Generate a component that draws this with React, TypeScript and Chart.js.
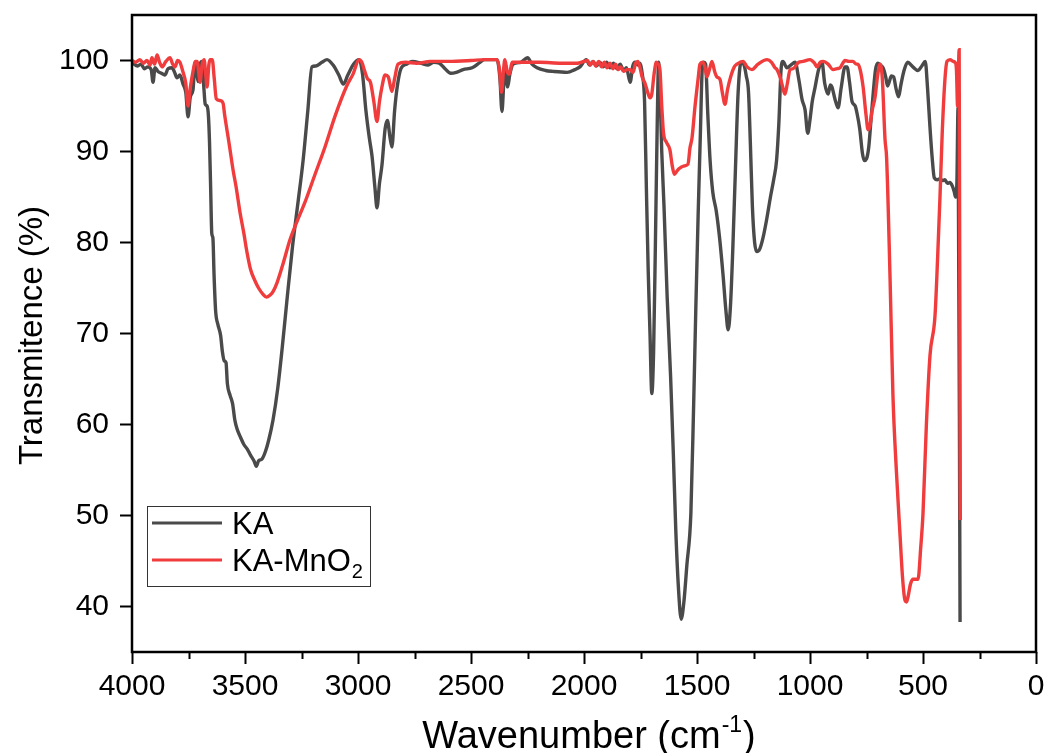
import React, { useEffect, useRef } from "react";
import { Chart, registerables } from "chart.js";

Chart.register(...registerables);

// ---------- data ----------
const X_TICKS = [0, 500, 1000, 1500, 2000, 2500, 3000, 3500, 4000];
const X_MINOR_TICKS = [250, 750, 1250, 1750, 2250, 2750, 3250, 3750];
const Y_TICKS = [40, 50, 60, 70, 80, 90, 100];
const SERIES_NAMES = ["KA", "KA-MnO2"];

// [wavenumber (cm-1), transmittance (%)]
const KA_POINTS: [number, number][] = [
  [4000, 99.9], [3990, 99.6], [3975, 99.4], [3960, 99.6], [3945, 99.1], [3930, 99.3],
  [3915, 99.0], [3907, 97.6], [3898, 99.2], [3885, 98.8], [3870, 98.6], [3855, 98.4],
  [3840, 99.1], [3823, 99.2], [3810, 98.6], [3801, 98.1], [3788, 98.4], [3774, 97.4],
  [3762, 96.5], [3752, 93.8], [3742, 96.0], [3730, 96.8], [3721, 99.8], [3714, 98.8],
  [3708, 97.7], [3700, 99.5], [3690, 99.9], [3682, 97.0], [3676, 95.2], [3668, 95.0],
  [3662, 94.0], [3657, 91.0], [3652, 86.0], [3647, 81.0], [3642, 80.5], [3637, 76.5],
  [3630, 72.5], [3620, 71.0], [3608, 69.8], [3600, 68.0], [3592, 67.0], [3584, 66.8],
  [3578, 64.5], [3566, 63.2], [3555, 62.3], [3545, 60.5], [3535, 59.5], [3520, 58.6],
  [3505, 57.8], [3490, 57.3], [3475, 56.6], [3460, 56.0], [3450, 55.4], [3440, 56.0],
  [3425, 56.2], [3410, 57.0], [3395, 58.3], [3376, 60.5], [3355, 64.0], [3335, 68.5],
  [3315, 73.5], [3290, 79.5], [3265, 84.5], [3243, 89.0], [3222, 94.5], [3204, 99.3],
  [3186, 99.4], [3160, 99.8], [3137, 100.1], [3110, 99.5], [3085, 98.4], [3065, 97.4],
  [3045, 98.4], [3020, 99.6], [2995, 100.1], [2980, 98.5], [2965, 94.5], [2950, 91.5],
  [2938, 89.5], [2925, 86.0], [2916, 83.8], [2905, 86.5], [2894, 88.5], [2880, 92.5],
  [2870, 93.4], [2858, 91.5], [2850, 90.5], [2838, 94.5], [2827, 97.0], [2810, 99.1],
  [2785, 99.6], [2760, 99.9], [2720, 99.7], [2690, 99.5], [2665, 99.8], [2640, 99.7],
  [2615, 99.1], [2590, 98.6], [2565, 98.7], [2535, 99.0], [2495, 99.2], [2460, 99.8],
  [2440, 100.1], [2385, 100.1], [2372, 98.0], [2363, 94.4], [2355, 97.5], [2348, 99.0],
  [2338, 97.1], [2328, 98.5], [2314, 99.6], [2280, 99.8], [2250, 100.3], [2230, 99.6],
  [2208, 99.2], [2170, 98.9], [2137, 98.8], [2075, 98.7], [2040, 99.0], [2018, 99.3],
  [1990, 100.1], [1975, 99.5], [1960, 99.9], [1945, 99.4], [1930, 99.8], [1915, 99.3],
  [1900, 99.8], [1885, 99.2], [1870, 99.7], [1855, 99.1], [1840, 99.6], [1825, 98.9],
  [1812, 99.2], [1796, 97.6], [1784, 99.4], [1774, 99.8], [1762, 99.5], [1752, 99.7],
  [1742, 98.5], [1732, 95.5], [1724, 86.0], [1716, 77.0], [1708, 70.0], [1700, 63.4],
  [1692, 68.0], [1684, 80.0], [1676, 93.0], [1670, 99.8], [1664, 97.0], [1656, 90.0],
  [1646, 84.0], [1632, 74.0], [1617, 65.4], [1605, 57.0], [1594, 48.5], [1582, 42.0],
  [1570, 38.6], [1558, 40.5], [1545, 44.5], [1527, 50.3], [1515, 62.0], [1505, 73.0],
  [1495, 83.0], [1485, 92.0], [1477, 99.0], [1470, 99.8], [1462, 99.6], [1452, 94.0],
  [1442, 89.0], [1430, 85.5], [1415, 83.5], [1400, 80.5], [1385, 76.5], [1372, 72.5],
  [1362, 70.4], [1352, 73.0], [1342, 79.0], [1330, 88.0], [1318, 96.5], [1305, 99.8],
  [1292, 99.5], [1282, 98.3], [1272, 96.5], [1264, 91.0], [1255, 84.0], [1245, 80.0],
  [1235, 79.0], [1222, 79.3], [1208, 80.5], [1192, 82.5], [1175, 85.0], [1160, 87.0],
  [1148, 89.0], [1138, 93.0], [1128, 99.0], [1120, 99.9], [1102, 99.2], [1085, 99.5],
  [1066, 99.8], [1050, 98.0], [1035, 95.7], [1022, 94.6], [1010, 92.0], [1000, 93.5],
  [990, 95.5], [978, 97.0], [962, 99.0], [947, 99.8], [935, 97.5], [920, 96.3],
  [910, 97.3], [903, 97.1], [890, 95.8], [876, 94.8], [862, 97.0], [845, 99.3],
  [836, 99.3], [825, 97.6], [814, 95.5], [800, 95.0], [792, 94.2], [780, 92.5],
  [768, 89.8], [760, 89.0], [750, 89.2], [740, 90.5], [730, 93.5], [720, 96.5],
  [710, 99.0], [700, 99.7], [688, 99.5], [677, 99.2], [665, 98.2], [657, 97.2],
  [650, 97.6], [640, 98.3], [630, 98.2], [620, 97.0], [608, 96.0], [598, 97.3],
  [585, 98.8], [568, 99.8], [545, 99.3], [522, 98.9], [505, 99.4], [490, 99.9],
  [480, 97.0], [470, 93.0], [460, 89.5], [450, 87.1], [437, 86.9], [425, 87.0],
  [414, 86.8], [403, 86.9], [392, 86.5], [381, 86.6], [370, 86.2], [362, 85.6],
  [356, 85.0], [350, 86.6], [345, 94.8], [336, 38.3],
];

const KA_MNO2_POINTS: [number, number][] = [
  [4000, 100.0], [3985, 99.8], [3965, 100.1], [3950, 99.7], [3934, 100.0], [3920, 99.5],
  [3912, 100.3], [3900, 99.6], [3889, 100.6], [3878, 99.8], [3867, 99.3], [3850, 99.9],
  [3832, 100.3], [3820, 99.6], [3810, 99.3], [3798, 100.0], [3788, 99.8], [3774, 98.7],
  [3762, 97.5], [3752, 95.0], [3742, 97.0], [3730, 98.8], [3720, 99.9], [3712, 99.9],
  [3704, 98.5], [3699, 97.6], [3690, 99.5], [3681, 100.1], [3674, 98.5], [3668, 97.1],
  [3660, 99.5], [3655, 100.1], [3645, 100.1], [3636, 98.0], [3627, 95.8], [3610, 95.6],
  [3597, 95.3], [3590, 94.0], [3580, 92.4], [3568, 90.5], [3553, 88.0], [3540, 86.2],
  [3522, 83.3], [3505, 81.0], [3491, 78.9], [3475, 77.0], [3456, 75.8], [3440, 75.0],
  [3420, 74.3], [3405, 74.0], [3390, 74.2], [3376, 74.6], [3358, 75.6], [3330, 77.8],
  [3301, 80.3], [3270, 82.3], [3235, 84.4], [3190, 87.5], [3146, 90.5], [3100, 94.0],
  [3050, 97.2], [3022, 98.5], [2995, 100.1], [2983, 99.8], [2970, 98.8], [2958, 98.0],
  [2945, 97.6], [2930, 95.5], [2916, 93.3], [2905, 95.5], [2894, 97.1], [2880, 98.4],
  [2866, 98.2], [2850, 96.6], [2838, 98.0], [2823, 99.6], [2790, 99.8], [2740, 99.7],
  [2680, 99.9], [2600, 99.9], [2500, 100.0], [2440, 100.1], [2385, 100.1], [2374, 99.0],
  [2365, 96.5], [2356, 99.0], [2350, 100.1], [2340, 98.8], [2330, 98.5], [2318, 99.8],
  [2260, 99.8], [2195, 99.8], [2100, 99.7], [2030, 99.7], [2000, 99.9], [1985, 100.0],
  [1972, 99.5], [1960, 99.9], [1948, 99.4], [1935, 99.9], [1922, 99.3], [1910, 99.8],
  [1898, 99.2], [1885, 99.7], [1872, 99.1], [1860, 99.6], [1848, 99.0], [1838, 99.3],
  [1825, 98.8], [1810, 99.0], [1796, 99.0], [1783, 98.7], [1772, 99.7], [1762, 99.9],
  [1752, 99.2], [1743, 98.2], [1730, 97.5], [1718, 96.5], [1708, 95.9], [1700, 96.3],
  [1690, 98.5], [1680, 99.8], [1672, 99.6], [1664, 99.0], [1656, 95.0], [1648, 92.0],
  [1635, 91.0], [1620, 90.2], [1610, 88.5], [1600, 87.5], [1590, 87.8], [1580, 88.1],
  [1560, 88.4], [1540, 88.6], [1531, 90.4], [1522, 91.5], [1509, 94.9], [1495, 98.0],
  [1487, 99.6], [1475, 99.8], [1465, 99.3], [1456, 98.2], [1445, 99.0], [1434, 99.9],
  [1422, 98.8], [1412, 98.2], [1398, 97.9], [1388, 96.5], [1376, 95.2], [1365, 96.8],
  [1350, 98.3], [1335, 99.3], [1323, 99.6], [1296, 99.9], [1278, 99.3], [1257, 99.0],
  [1230, 99.6], [1190, 100.1], [1170, 99.8], [1155, 99.2], [1146, 99.0], [1130, 98.0],
  [1120, 97.0], [1111, 96.3], [1100, 97.5], [1088, 99.0], [1075, 99.1], [1050, 99.8],
  [1031, 99.9], [1000, 100.1], [980, 99.7], [969, 99.3], [955, 99.8], [942, 99.9],
  [920, 99.6], [898, 99.0], [880, 99.1], [867, 99.2], [845, 100.0], [828, 99.9],
  [810, 99.9], [795, 99.6], [788, 99.6], [778, 99.0], [765, 97.1], [752, 94.0],
  [743, 92.4], [735, 92.8], [725, 94.5], [712, 96.0], [700, 98.5], [690, 99.6],
  [680, 98.0], [668, 91.3], [661, 89.3], [646, 76.3], [633, 63.2], [618, 55.0],
  [602, 48.0], [590, 43.0], [580, 40.7], [573, 40.5], [566, 41.1], [555, 42.5],
  [544, 43.0], [533, 43.0], [522, 43.0], [510, 46.5], [500, 50.2], [485, 60.0],
  [469, 67.6], [447, 71.9], [435, 78.5], [425, 84.9], [415, 92.0], [403, 97.9],
  [394, 99.9], [380, 100.1], [367, 99.9], [358, 99.8], [352, 99.0], [347, 95.0],
  [340, 101.2], [335, 49.5],
];

// ---------- style ----------
const FONT = "'Liberation Sans', Arial, Helvetica, sans-serif";
const KA_COLOR = "#4a4a4a";
const MNO2_COLOR = "#f03c3c";

const decorPlugin = {
  id: "decor",
  afterDraw(chart: any) {
    const { ctx, chartArea } = chart;
    const { left, top, right, bottom } = chartArea;
    const xScale = chart.scales.x;
    ctx.save();

    // frame
    ctx.strokeStyle = "#000";
    ctx.lineWidth = 2.5;
    ctx.strokeRect(left, top, right - left, bottom - top);

    // minor x ticks
    ctx.lineWidth = 2;
    ctx.beginPath();
    X_MINOR_TICKS.forEach((v) => {
      const px = Math.round(xScale.getPixelForValue(v)) + 0.5;
      ctx.moveTo(px, bottom);
      ctx.lineTo(px, bottom + 7);
    });
    ctx.stroke();

    // x title with superscript
    ctx.fillStyle = "#000";
    ctx.textBaseline = "alphabetic";
    ctx.textAlign = "left";
    const mainFont = `38px ${FONT}`;
    const supFont = `23px ${FONT}`;
    const part1 = "Wavenumber (cm";
    const sup = "-1";
    const part3 = ")";
    ctx.font = mainFont;
    const w1 = ctx.measureText(part1).width;
    const w3 = ctx.measureText(part3).width;
    ctx.font = supFont;
    const w2 = ctx.measureText(sup).width;
    const total = w1 + w2 + w3;
    const cx = (left + right) / 2 + 4;
    let tx = cx - total / 2;
    const baseY = 748;
    ctx.font = mainFont;
    ctx.fillText(part1, tx, baseY);
    tx += w1;
    ctx.font = supFont;
    ctx.fillText(sup, tx + 1, baseY - 16);
    tx += w2 + 2;
    ctx.font = mainFont;
    ctx.fillText(part3, tx, baseY);

    // y title
    ctx.save();
    ctx.translate(42, (top + bottom) / 2 + 2);
    ctx.rotate(-Math.PI / 2);
    ctx.font = `33px ${FONT}`;
    ctx.textAlign = "center";
    ctx.textBaseline = "alphabetic";
    ctx.fillText("Transmitence (%)", 0, 0);
    ctx.restore();

    // legend
    const lx = left + 15;
    const ly = bottom - 146;
    const lw = 223;
    const lh = 80;
    ctx.fillStyle = "#fff";
    ctx.fillRect(lx, ly, lw, lh);
    ctx.strokeStyle = "#333";
    ctx.lineWidth = 1;
    ctx.strokeRect(lx + 0.5, ly + 0.5, lw, lh);

    const rows = [
      { color: KA_COLOR, y: ly + 17 },
      { color: MNO2_COLOR, y: ly + 54 },
    ];
    rows.forEach((r) => {
      ctx.strokeStyle = r.color;
      ctx.lineWidth = 3;
      ctx.beginPath();
      ctx.moveTo(lx + 5, r.y);
      ctx.lineTo(lx + 75, r.y);
      ctx.stroke();
    });
    ctx.fillStyle = "#000";
    ctx.textAlign = "left";
    ctx.font = `31px ${FONT}`;
    ctx.fillText(SERIES_NAMES[0], lx + 85, rows[0].y + 11);
    const base2 = "KA-MnO";
    ctx.fillText(base2, lx + 85, rows[1].y + 11);
    const bw = ctx.measureText(base2).width;
    ctx.font = `20px ${FONT}`;
    ctx.fillText("2", lx + 86 + bw, rows[1].y + 18);

    ctx.restore();
  },
};

export default function App() {
  const canvasRef = useRef<HTMLCanvasElement | null>(null);

  useEffect(() => {
    const canvas = canvasRef.current;
    if (!canvas) return;
    const chart = new Chart(canvas, {
      type: "line",
      data: {
        datasets: [
          {
            label: SERIES_NAMES[0],
            data: KA_POINTS.map(([x, y]) => ({ x, y })),
            borderColor: KA_COLOR,
            backgroundColor: KA_COLOR,
            borderWidth: 3.4,
            pointRadius: 0,
            cubicInterpolationMode: "monotone",
            order: 2,
          },
          {
            label: SERIES_NAMES[1],
            data: KA_MNO2_POINTS.map(([x, y]) => ({ x, y })),
            borderColor: MNO2_COLOR,
            backgroundColor: MNO2_COLOR,
            borderWidth: 3.4,
            pointRadius: 0,
            cubicInterpolationMode: "monotone",
            order: 1,
          },
        ],
      },
      options: {
        animation: false,
        responsive: false,
        devicePixelRatio: 1,
        layout: { padding: { top: 15, right: 10, left: 0, bottom: 0 } },
        plugins: {
          legend: { display: false },
          tooltip: { enabled: false },
          title: { display: false },
        },
        scales: {
          x: {
            type: "linear",
            reverse: true,
            min: 0,
            max: 4000,
            afterBuildTicks: (s: any) => {
              s.ticks = X_TICKS.map((v) => ({ value: v }));
            },
            afterFit: (s: any) => {
              s.height = 101;
              s.paddingLeft = 0;
              s.paddingRight = 0;
            },
            border: { display: false },
            grid: {
              drawOnChartArea: false,
              drawTicks: true,
              tickLength: 12,
              tickWidth: 2,
              tickColor: "#000",
            },
            ticks: {
              color: "#000",
              font: { family: FONT, size: 30 },
              padding: 5,
              maxRotation: 0,
              autoSkip: false,
              callback: (v: any) => String(v),
            },
          },
          y: {
            type: "linear",
            min: 35,
            max: 105,
            afterBuildTicks: (s: any) => {
              s.ticks = Y_TICKS.map((v) => ({ value: v }));
            },
            afterFit: (s: any) => {
              s.width = 132;
              s.paddingTop = 0;
              s.paddingBottom = 0;
            },
            border: { display: false },
            grid: {
              drawOnChartArea: false,
              drawTicks: true,
              tickLength: 12,
              tickWidth: 2,
              tickColor: "#000",
            },
            ticks: {
              color: "#000",
              font: { family: FONT, size: 30 },
              padding: 11,
              callback: (v: any) => String(v),
            },
          },
        },
      },
      plugins: [decorPlugin],
    } as any);
    return () => chart.destroy();
  }, []);

  return (
    <div style={{ position: "absolute", left: 0, top: 0, width: 1046, height: 753, background: "#fff" }}>
      <canvas ref={canvasRef} width={1046} height={753} style={{ display: "block" }} />
    </div>
  );
}
